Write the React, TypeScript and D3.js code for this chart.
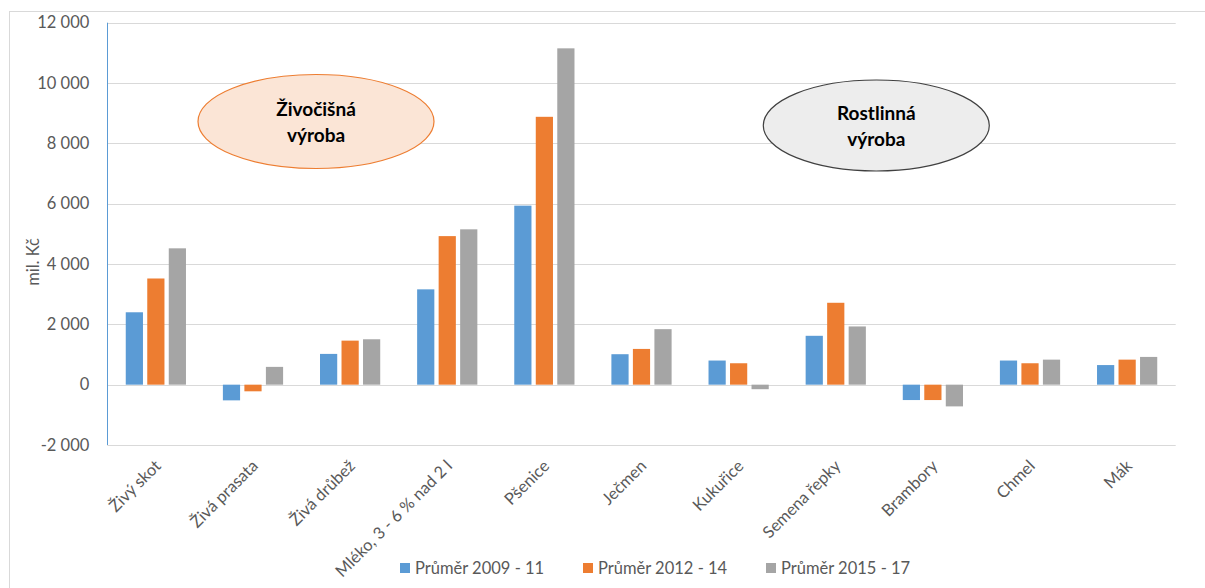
import { useEffect, useRef } from "react";
import * as d3 from "d3";

const categories = [
    "Živý skot",
    "Živá prasata",
    "Živá drůbež",
    "Mléko, 3 - 6 % nad 2 l",
    "Pšenice",
    "Ječmen",
    "Kukuřice",
    "Semena řepky",
    "Brambory",
    "Chmel",
    "Mák",
];

const seriesNames = ["Průměr 2009 - 11", "Průměr 2012 - 14", "Průměr 2015 - 17"];
const seriesColors = ["#5b9bd5", "#ed7d31", "#a5a5a5"];

const avg2009_11 = [2400, -520, 1020, 3160, 5935, 1010, 800, 1620, -510, 800, 650];
const avg2012_14 = [3520, -220, 1460, 4925, 8880, 1185, 710, 2715, -510, 710, 830];
const avg2015_17 = [4520, 590, 1505, 5150, 11150, 1840, -150, 1930, -720, 830, 920];

const yTicks = [-2000, 0, 2000, 4000, 6000, 8000, 10000, 12000];

const W = 1205;
const H = 588;
const FONT = "Lato, 'Open Sans', sans-serif";

export default function App() {
    const svgRef = useRef<SVGSVGElement | null>(null);

    useEffect(() => {
        const svg = d3.select(svgRef.current!);
        svg.selectAll("*").remove();

        const margin = { top: 22.7, right: 29.3, bottom: 143, left: 107.3 };
        const iw = W - margin.left - margin.right;

        const values = [avg2009_11, avg2012_14, avg2015_17];

        const y = d3.scaleLinear().domain([-2000, 12000]).range([H - margin.bottom, margin.top]);
        const x0 = d3.scaleBand<string>().domain(categories).range([margin.left, margin.left + iw]);
        const groupW = x0.bandwidth() * 0.62;
        const x1 = d3
            .scaleBand<number>()
            .domain([0, 1, 2])
            .range([0, groupW])
            .paddingInner(0.2);

        const locale = d3.formatLocale({ decimal: ",", thousands: " ", grouping: [3], currency: ["", " Kč"], minus: "-" });
        const fmt = locale.format(",d");

        // chart frame
        svg.append("rect")
            .attr("x", 9.5)
            .attr("y", 11.5)
            .attr("width", W + 20)
            .attr("height", H + 20)
            .attr("fill", "#fff")
            .attr("stroke", "#d9d9d9")
            .attr("stroke-width", 1);

        // gridlines
        svg.append("g")
            .selectAll("line")
            .data(yTicks)
            .join("line")
            .attr("x1", margin.left)
            .attr("x2", margin.left + iw)
            .attr("y1", (d) => Math.round(y(d)) + 0.5)
            .attr("y2", (d) => Math.round(y(d)) + 0.5)
            .attr("stroke", "#d9d9d9")
            .attr("stroke-width", 1.2);

        // y tick labels
        svg.append("g")
            .selectAll("text")
            .data(yTicks)
            .join("text")
            .attr("x", margin.left - 18)
            .attr("y", (d) => y(d))
            .attr("dy", "0.35em")
            .attr("text-anchor", "end")
            .attr("font-family", FONT)
            .attr("font-size", 16.5)
            .attr("fill", "#595959")
            .text((d) => fmt(d));

        // y axis title
        svg.append("text")
            .attr("transform", `translate(39,262) rotate(-90)`)
            .attr("text-anchor", "middle")
            .attr("font-family", FONT)
            .attr("font-size", 16.5)
            .attr("fill", "#595959")
            .text("mil. Kč");

        // bars
        const groups = svg
            .append("g")
            .selectAll("g")
            .data(categories)
            .join("g")
            .attr("transform", (d) => `translate(${x0(d)! + (x0.bandwidth() - groupW) / 2},0)`);

        groups
            .selectAll("rect")
            .data((_d, i) => values.map((s, k) => ({ k, v: s[i] })))
            .join("rect")
            .attr("x", (d) => x1(d.k)!)
            .attr("width", x1.bandwidth())
            .attr("y", (d) => y(Math.max(0, d.v)))
            .attr("height", (d) => Math.abs(y(d.v) - y(0)))
            .attr("fill", (d) => seriesColors[d.k]);

        // vertical axis line
        svg.append("line")
            .attr("x1", Math.round(margin.left) + 0.5)
            .attr("x2", Math.round(margin.left) + 0.5)
            .attr("y1", y(12000))
            .attr("y2", y(-2000))
            .attr("stroke", "#5b9bd5")
            .attr("stroke-width", 1);

        // x labels
        svg.append("g")
            .selectAll("text")
            .data(categories)
            .join("text")
            .attr("transform", (d) => `translate(${x0(d)! + x0.bandwidth() / 2 + 6},${y(-2000) + 22}) rotate(-45)`)
            .attr("text-anchor", "end")
            .attr("font-family", FONT)
            .attr("font-size", 16.5)
            .attr("fill", "#595959")
            .text((d) => d);

        // annotation ellipses
        const notes = [
            { cx: 316, cy: 121.5, rx: 118, ry: 47, fill: "#fbe5d6", stroke: "#ed7d31", lines: ["Živočišná", "výroba"] },
            { cx: 876.3, cy: 125.5, rx: 113, ry: 45.5, fill: "#ededed", stroke: "#404040", lines: ["Rostlinná", "výroba"] },
        ];
        const ng = svg.append("g").selectAll("g").data(notes).join("g");
        ng.append("ellipse")
            .attr("cx", (d) => d.cx)
            .attr("cy", (d) => d.cy)
            .attr("rx", (d) => d.rx)
            .attr("ry", (d) => d.ry)
            .attr("fill", (d) => d.fill)
            .attr("stroke", (d) => d.stroke)
            .attr("stroke-width", 1.2);
        ng.selectAll("text")
            .data((d) => d.lines.map((t, i) => ({ t, i, cx: d.cx, cy: d.cy })))
            .join("text")
            .attr("x", (d) => d.cx)
            .attr("y", (d) => d.cy - 12 + d.i * 26)
            .attr("dy", "0.35em")
            .attr("text-anchor", "middle")
            .attr("font-family", FONT)
            .attr("font-weight", "bold")
            .attr("font-size", 19)
            .attr("fill", "#000")
            .text((d) => d.t);

        // legend
        const lg = svg
            .append("g")
            .selectAll("g")
            .data(seriesNames)
            .join("g")
            .attr("transform", (_d, i) => `translate(${400 + i * 183},568)`);
        lg.append("rect")
            .attr("x", 0)
            .attr("y", -5)
            .attr("width", 10)
            .attr("height", 10)
            .attr("fill", (_d, i) => seriesColors[i]);
        lg.append("text")
            .attr("x", 15)
            .attr("y", 0)
            .attr("dy", "0.35em")
            .attr("font-family", FONT)
            .attr("font-size", 16.5)
            .attr("fill", "#595959")
            .text((d) => d);
    }, []);

    return (
        <svg
            ref={svgRef}
            width={W}
            height={H}
            style={{ position: "absolute", left: 0, top: 0, display: "block", background: "#fff" }}
        />
    );
}
